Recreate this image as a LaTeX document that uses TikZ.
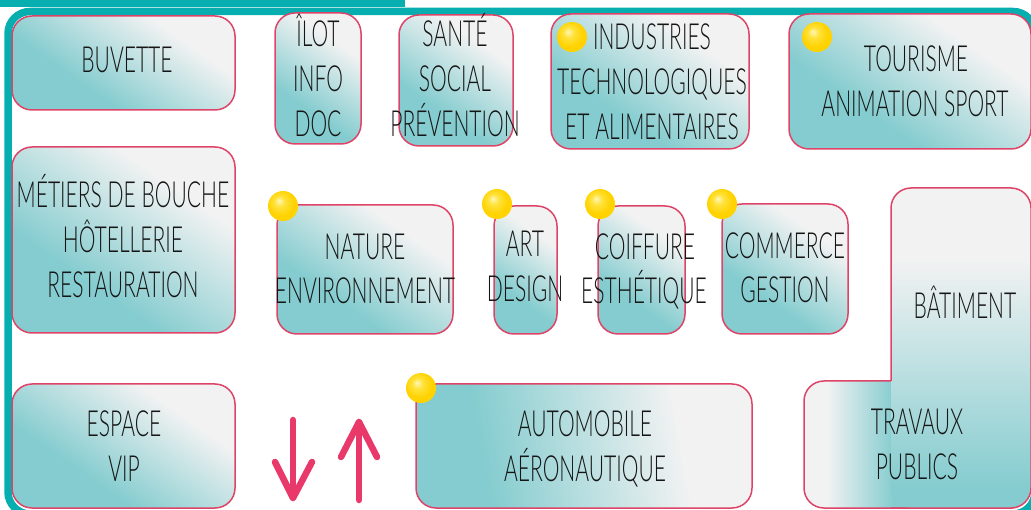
\documentclass[tikz,border=0pt]{standalone}
\usepackage{fontspec}
\IfFontExistsTF{Lato Light}{\setmainfont{Lato Light}[FakeStretch=0.585]}{\setmainfont{Lato}[FakeStretch=0.57]}
\definecolor{frameteal}{HTML}{06AEB0}
\definecolor{boxteal}{HTML}{84CCCF}
\definecolor{boxgray}{HTML}{F2F2F2}
\definecolor{boxpink}{HTML}{DE4468}
\definecolor{arrowpink}{HTML}{E8396A}
\definecolor{yhi}{HTML}{FFF7B8}
\definecolor{ymid}{HTML}{FFE23A}
\definecolor{ylo}{HTML}{FFD200}
\definecolor{txt}{HTML}{151515}
\pgfdeclarehorizontalshading{diagshade}{100bp}{color(0bp)=(boxteal); color(36bp)=(boxteal); color(68bp)=(boxgray); color(100bp)=(boxgray)}
\pgfdeclarehorizontalshading{autoshade}{100bp}{color(0bp)=(boxteal); color(33bp)=(boxteal); color(66bp)=(boxgray); color(100bp)=(boxgray)}
\pgfdeclarehorizontalshading{batshade}{100bp}{color(0bp)=(boxteal); color(28bp)=(boxteal); color(64bp)=(boxgray); color(100bp)=(boxgray)}
\pgfdeclarehorizontalshading{travshade}{100bp}{color(0bp)=(boxgray); color(30bp)=(boxgray); color(45bp)=(boxteal); color(100bp)=(boxteal)}
\pgfdeclareradialshading{ydot}{\pgfpoint{-7bp}{9bp}}{color(0bp)=(yhi); color(9bp)=(ymid); color(22bp)=(ylo); color(50bp)=(ylo)}
\begin{document}
\begin{tikzpicture}[x=1pt,y=-1pt,
  box/.style={draw=boxpink, line width=1.5pt, rounded corners=20pt, inner sep=0pt, outer sep=0pt,
    shade, shading=diagshade, shading angle=55},
  dot/.style={circle, minimum size=30pt, inner sep=0pt, shade, shading=ydot},
  lbl/.style={anchor=base, inner sep=0pt, text=txt, font=\fontsize{36}{45}\selectfont},
  arr/.style={draw=arrowpink, line width=6.5pt, line cap=round, line join=round},
  frame/.style={draw=frameteal, line width=7.5pt, rounded corners=22pt}]
\useasboundingbox (0,0) rectangle (1031,510);
% frame
\fill[frameteal] (0,0) rectangle (405,7);
\draw[frame] (8,11.5) rectangle (1035,514);
% boxes
\node[box, minimum width=223pt, minimum height=94pt] (buv) at (123.5,63) {};
\node[box, minimum width=86pt, minimum height=131pt] (ilot) at (318,78.5) {};
\node[box, minimum width=114pt, minimum height=131pt] (sante) at (456,80.5) {};
\node[box, minimum width=198pt, minimum height=135pt] (indus) at (650,81.5) {};
\node[box, minimum width=242pt, minimum height=135pt] (tour) at (910,81.5) {};
\node[box, minimum width=223pt, minimum height=186pt] (metiers) at (123.5,240) {};
\node[box, minimum width=176pt, minimum height=129pt] (nature) at (365,269.5) {};
\node[box, minimum width=63pt, minimum height=128pt] (art) at (525.5,270) {};
\node[box, minimum width=87pt, minimum height=128pt] (coif) at (641.5,270) {};
\node[box, minimum width=126pt, minimum height=130pt] (comm) at (785,269) {};
\node[box, minimum width=223pt, minimum height=124pt] (espace) at (123.5,446) {};
\node[box, minimum width=336pt, minimum height=124pt, shading=autoshade, shading angle=10] (auto) at (584,446) {};
\node[box, minimum width=226pt, minimum height=127pt, shading=travshade, shading angle=0] (trav) at (917,444.5) {};
\node[box, draw=none, minimum width=140pt, minimum height=320pt, shading=batshade, shading angle=90] (bat) at (961,348) {};
\draw[draw=boxpink, line width=1.5pt, rounded corners=20pt] (bat.west |- trav.north) -- (bat.north west) -- (bat.north east) -- (bat.south east) -- (bat.south west);
% dots
\node[dot] (d-indus) at (572,37) {};
\node[dot] (d-tour) at (817,37) {};
\node[dot] (d-nature) at (283,206) {};
\node[dot] (d-art) at (497,204) {};
\node[dot] (d-coif) at (600,204) {};
\node[dot] (d-comm) at (722,204) {};
\node[dot] (d-auto) at (421,388) {};
% texts
\node[lbl] (t-buv) at (127,73) {BUVETTE};
\node[lbl] (t-ilot1) at (318,47) {ÎLOT};
\node[lbl] (t-ilot2) at (318,92) {INFO};
\node[lbl] (t-ilot3) at (318,137) {DOC};
\node[lbl] (t-sante1) at (455,47) {SANTÉ};
\node[lbl] (t-sante2) at (455,92) {SOCIAL};
\node[lbl] (t-sante3) at (455,137) {PRÉVENTION};
\node[lbl] (t-indus1) at (652,50) {INDUSTRIES};
\node[lbl] (t-indus2) at (652,95) {TECHNOLOGIQUES};
\node[lbl] (t-indus3) at (652,140) {ET ALIMENTAIRES};
\node[lbl] (t-tour1) at (916,72) {TOURISME};
\node[lbl] (t-tour2) at (915,117) {ANIMATION SPORT};
\node[lbl] (t-met1) at (123,208) {MÉTIERS DE BOUCHE};
\node[lbl] (t-met2) at (123,253) {HÔTELLERIE};
\node[lbl] (t-met3) at (123,298) {RESTAURATION};
\node[lbl] (t-nat1) at (365,260) {NATURE};
\node[lbl] (t-nat2) at (365,304) {ENVIRONNEMENT};
\node[lbl] (t-art1) at (525,257) {ART};
\node[lbl] (t-art2) at (525,302) {DESIGN};
\node[lbl] (t-coif1) at (645,260) {COIFFURE};
\node[lbl] (t-coif2) at (644,304) {ESTHÉTIQUE};
\node[lbl] (t-comm1) at (785,259) {COMMERCE};
\node[lbl] (t-comm2) at (785,303) {GESTION};
\node[lbl] (t-esp1) at (124,436) {ESPACE};
\node[lbl] (t-esp2) at (124,482) {VIP};
\node[lbl] (t-auto1) at (585,437) {AUTOMOBILE};
\node[lbl] (t-auto2) at (585,482) {AÉRONAUTIQUE};
\node[lbl] (t-bat) at (965,319) {BÂTIMENT};
\node[lbl] (t-trav1) at (917,435) {TRAVAUX};
\node[lbl] (t-trav2) at (917,479) {PUBLICS};
% arrows
\coordinate (dn-top) at (293,420);
\coordinate (dn-tip) at (293,498);
\coordinate (dn-l) at (275,462);
\coordinate (dn-r) at (312,462);
\coordinate (up-bot) at (359,500);
\coordinate (up-tip) at (359,422);
\coordinate (up-l) at (341,457);
\coordinate (up-r) at (377,457);
\draw[arr] (dn-top) -- (dn-tip);
\draw[arr] (dn-l) -- (dn-tip) -- (dn-r);
\draw[arr] (up-bot) -- (up-tip);
\draw[arr] (up-l) -- (up-tip) -- (up-r);
\end{tikzpicture}
\end{document}
